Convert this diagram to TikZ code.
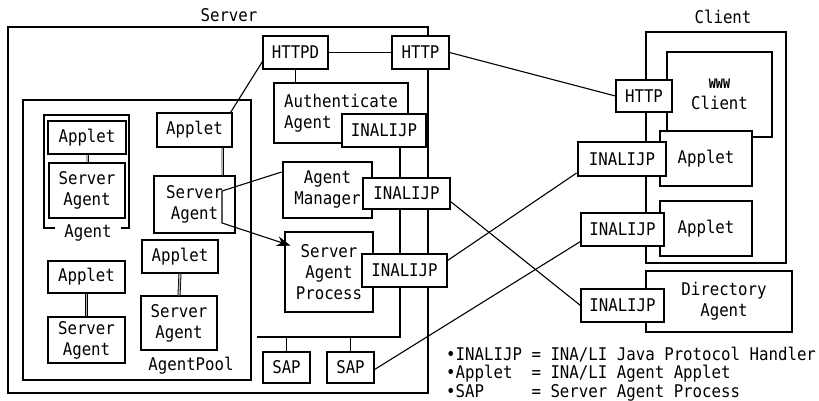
\documentclass[tikz,border=0pt]{standalone}
\usepackage{fontspec}
\newfontfamily\diagfont[FakeStretch=0.9]{DejaVu Sans Mono}
\usetikzlibrary{arrows.meta, backgrounds}

\begin{document}
\begin{tikzpicture}[x=1pt, y=-1pt, >={Stealth[length=14pt, width=10pt]},
    every node/.style={font=\diagfont\fontsize{17.5}{21}\selectfont},
    box/.style={draw, fill=white, line width=1.1pt, inner sep=0pt, align=center},
    heavy/.style={box, line width=2.8pt},
    link/.style={line width=1.1pt},
    dbl/.style={double=gray!60, double distance=1.4pt, line width=0.8pt},
    bus/.style={line width=2.6pt}]
\useasboundingbox (0,0) rectangle (819,401);

\draw[line width=1.1pt] (8,27) rectangle (428,393);
\draw[line width=1.1pt] (23,100) rectangle (251,380);
\draw[line width=1.5pt] (44,115) rectangle (129,228);
\draw[line width=1.1pt] (646,32) rectangle (786,263);

\node (srvlbl) at (229,15) {Server};
\node (clilbl) at (723,17) {Client};
\node (poollbl) at (191,366) {AgentPool};
\node[fill=white, inner xsep=9pt, inner ysep=1pt] (grplbl) at (88,233) {Agent};

\node[box, minimum width=65, minimum height=33] (httpd) at (295.5,52.5) {HTTPD};
\node[box, minimum width=57, minimum height=33] (httpS) at (420.5,52.5) {HTTP};
\node[heavy, align=left, minimum width=134, minimum height=60] (auth) at (341,113) {Authenticate\\Agent};
\node[box, minimum width=84, minimum height=33] (inaA) at (384,130.5) {INALIJP};
\node[heavy, minimum width=89, minimum height=56] (amgr) at (327.5,190) {Agent\\Manager};
\node[box, minimum width=87, minimum height=31] (inaM) at (406.5,193.5) {INALIJP};
\node[heavy, minimum width=88, minimum height=80] (sap) at (329,272) {Server\\Agent\\Process};
\node[box, minimum width=85, minimum height=33] (inaP) at (404.5,270.5) {INALIJP};
\node[box, minimum width=47, minimum height=31] (sapA) at (286.5,367.5) {SAP};
\node[box, minimum width=47, minimum height=31] (sapB) at (350.5,367.5) {SAP};

\node[box, minimum width=78, minimum height=33] (appG) at (87,137.5) {Applet};
\node[box, minimum width=76, minimum height=55] (saG) at (87,190.5) {Server\\Agent};
\node[box, minimum width=75, minimum height=34] (appM) at (194.5,130) {Applet};
\node[heavy, minimum width=81, minimum height=57] (saM) at (194.5,204.5) {Server\\Agent};
\node[box, minimum width=77, minimum height=32] (appL) at (86.5,277) {Applet};
\node[box, minimum width=77, minimum height=46] (saL) at (86.5,340) {Server\\Agent};
\node[box, minimum width=76, minimum height=33] (appR) at (180,256.5) {Applet};
\node[box, minimum width=76, minimum height=54] (saR) at (179,323) {Server\\Agent};

\node[box, minimum width=105, minimum height=85] (www) at (719.5,94.5) {{\bfseries\fontsize{13}{15}\selectfont WWW}\\Client};
\node[box, minimum width=56, minimum height=32] (httpC) at (644,96) {HTTP};
\node[heavy, minimum width=92, minimum height=55] (appC) at (706,158.5) {Applet};
\node[heavy, minimum width=88, minimum height=34] (inaC) at (622,159) {INALIJP};
\node[box, minimum width=92, minimum height=55] (appD) at (706,228.5) {Applet};
\node[box, minimum width=83, minimum height=33] (inaD) at (622.5,229.5) {INALIJP};
\node[heavy, minimum width=146, minimum height=61] (dir) at (719,301.5) {\hspace*{10pt}Directory\\\hspace*{10pt}Agent};
\node[box, minimum width=83, minimum height=33] (inaE) at (622.5,305.5) {INALIJP};

\begin{scope}[on background layer]
\coordinate (busR) at (400,337);
\coordinate (busL) at (257,337);
\draw[bus] (busR |- inaA.south) -- (busR) -- (busL);
\end{scope}
\draw[link] (sapA.north) -- (sapA.north |- busL);
\draw[link] (sapB.north) -- (sapB.north |- busL);

\draw[link] (httpd) -- (httpS);
\draw[link] (httpd.south) -- (httpd.south |- auth.north);
\draw[link] ([yshift=-9pt]httpd.west) -- ([xshift=-2pt]appM.north east);
\draw[link] (httpS.east) -- (httpC.west);

\draw[dbl] (appG.south) -- (saG.north);
\draw[dbl] ([xshift=27.5pt]appM.south) -- ([xshift=27.5pt]saM.north);
\draw[dbl] (appL.south) -- (saL.north);
\draw[dbl] (appR.south) -- (saR.north);

\coordinate (kA) at (222,191);
\coordinate (kB) at (222,223);
\draw[link] ([yshift=18pt]amgr.west) -- (kA) -- (kB);
\draw[link, ->] (kB) -- ([shift={(7pt,-15pt)}]sap.north west);

\draw[link] ([yshift=-8pt]inaM.east) -- (inaE.west);
\draw[link] ([yshift=10pt]inaP.east) -- ([yshift=-14pt]inaC.west);
\draw[link] ([yshift=-2pt]sapB.east) -- ([yshift=-12pt]inaD.west);

\node[anchor=west, inner sep=0pt] (leg1) at (446,355) {\textbullet INALIJP = INA/LI Java Protocol Handler};
\node[anchor=west, inner sep=0pt] (leg2) at (446,374) {\textbullet Applet~~= INA/LI Agent Applet};
\node[anchor=west, inner sep=0pt] (leg3) at (446,393) {\textbullet SAP~~~~~= Server Agent Process};
\end{tikzpicture}
\end{document}
